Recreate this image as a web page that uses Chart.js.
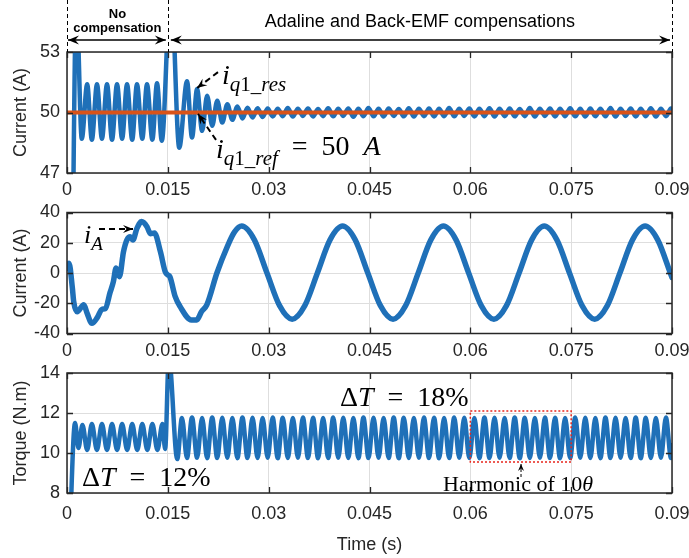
<!DOCTYPE html>
<html>
<head>
<meta charset="utf-8">
<script src="https://cdn.jsdelivr.net/npm/chart.js@4.4.0/dist/chart.umd.min.js"></script>
<style>
  body { margin: 0; background: #fff; width: 689px; height: 558px; position: relative; overflow: hidden; }
  .panel { position: absolute; left: 0; }
</style>
</head>
<body>
<div class="panel" style="top:0"><canvas id="c1" width="689" height="200"></canvas></div>
<div class="panel" style="top:200px"><canvas id="c2" width="689" height="160"></canvas></div>
<div class="panel" style="top:360px"><canvas id="c3" width="689" height="198"></canvas></div>
<script>
// Ejes
const timeTicks = [0, 0.015, 0.03, 0.045, 0.06, 0.075, 0.09];
const iqTicks = [47, 50, 53];
const iaTicks = [-40, -20, 0, 20, 40];
const torqueTicks = [8, 10, 12, 14];

// Rejilla de tiempos (picos/valles) común después de 0.0178 s
const gridT = [0.01785, 0.0186, 0.01935, 0.0201, 0.02085, 0.0216, 0.02235, 0.0231, 0.02385, 0.0246,
  0.02535, 0.0261, 0.02685, 0.0276, 0.02835, 0.0291, 0.02985, 0.0306, 0.03135, 0.0321,
  0.03285, 0.0336, 0.03435, 0.0351, 0.03585, 0.0366, 0.03735, 0.0381, 0.03885, 0.0396,
  0.04035, 0.0411, 0.04185, 0.0426, 0.04335, 0.0441, 0.04485, 0.0456, 0.04635, 0.0471,
  0.04785, 0.0486, 0.04935, 0.0501, 0.05085, 0.0516, 0.05235, 0.0531, 0.05385, 0.0546,
  0.05535, 0.0561, 0.05685, 0.0576, 0.05835, 0.0591, 0.05985, 0.0606, 0.06135, 0.0621,
  0.06285, 0.0636, 0.06435, 0.0651, 0.06585, 0.0666, 0.06735, 0.0681, 0.06885, 0.0696,
  0.07035, 0.0711, 0.07185, 0.0726, 0.07335, 0.0741, 0.07485, 0.0756, 0.07635, 0.0771,
  0.07785, 0.0786, 0.07935, 0.0801, 0.08085, 0.0816, 0.08235, 0.0831, 0.08385, 0.0846,
  0.08535, 0.0861, 0.08685, 0.0876, 0.08835, 0.0891, 0.08985, 0.09];

// Panel 1: i_q1_res (antes de la rejilla común)
const iqPreT = [0, 0.0009, 0.0014, 0.0022, 0.003, 0.0037, 0.00446, 0.0052, 0.00595, 0.0067,
  0.00744, 0.0082, 0.00893, 0.0097, 0.01041, 0.0112, 0.0119, 0.0127, 0.01339, 0.0141, 0.01545, 0.0167];
const iqPreV = [0, 44.5, 55.5, 48.7, 51.4, 48.65, 51.4, 48.7, 51.4, 48.65,
  51.4, 48.7, 51.4, 48.65, 51.4, 48.7, 51.4, 48.65, 51.45, 48.6, 56.5, 48.25];
const iqGridV = [51.55, 48.76, 51.16, 49.09, 50.83, 49.34, 50.58, 49.5, 50.41, 49.64,
  50.3, 49.7, 50.24, 49.75, 50.21, 49.78, 50.2, 49.8, 50.18, 49.82,
  50.22, 49.8, 50.19, 49.83, 50.2, 49.8, 50.17, 49.82, 50.21, 49.81,
  50.19, 49.83, 50.2, 49.79, 50.18, 49.82, 50.22, 49.81, 50.19, 49.8,
  50.2, 49.83, 50.17, 49.81, 50.21, 49.8, 50.19, 49.82, 50.2, 49.8,
  50.18, 49.82, 50.22, 49.81, 50.19, 49.83, 50.2, 49.8, 50.18, 49.82,
  50.21, 49.8, 50.19, 49.82, 50.2, 49.81, 50.17, 49.82, 50.22, 49.8,
  50.19, 49.83, 50.2, 49.8, 50.18, 49.82, 50.21, 49.81, 50.19, 49.8,
  50.2, 49.82, 50.18, 49.81, 50.22, 49.8, 50.19, 49.83, 50.2, 49.8,
  50.18, 49.82, 50.21, 49.8, 50.19, 49.82, 50.2, 50.0];
const iqRefT = [0, 0.09];
const iqRefV = [50, 50];

// Panel 2: i_A
const iaT = [0, 0.0003, 0.0008, 0.001, 0.0015, 0.0025, 0.003, 0.0037, 0.0045, 0.0052,
  0.0057, 0.0064, 0.0069, 0.0073, 0.0078, 0.0084, 0.0089, 0.0094, 0.0098, 0.0104,
  0.0111, 0.0119, 0.0124, 0.013, 0.0139, 0.0146, 0.015, 0.0153, 0.0161, 0.0168,
  0.0185, 0.0193, 0.02, 0.0208, 0.0223, 0.0238, 0.0249,
  0.026, 0.027875, 0.02975, 0.031625, 0.0335, 0.035375, 0.03725, 0.039125,
  0.041, 0.042875, 0.04475, 0.046625, 0.0485, 0.050375, 0.05225, 0.054125,
  0.056, 0.057875, 0.05975, 0.061625, 0.0635, 0.065375, 0.06725, 0.069125,
  0.071, 0.072875, 0.07475, 0.076625, 0.0785, 0.080375, 0.08225, 0.084125,
  0.086, 0.087875, 0.08975, 0.09];
const iaV = [3, 6.5, -10, -19, -25.6, -21, -26.7, -33.3, -29.5, -24,
  -23.5, -13, -5.7, 3.3, -2.4, 14, 21.8, 24, 21.8, 29.5,
  34, 30.6, 26, 26.5, 14, 1, -1.3, -2.4, -15.6, -22,
  -31, -31, -25.6, -21, 0, 17, 27,
  31, 21.9, 0, -21.6, -30.5, -21.6, 0, 21.9,
  31, 21.9, 0, -21.6, -30.5, -21.6, 0, 21.9,
  31, 21.9, 0, -21.6, -30.5, -21.6, 0, 21.9,
  31, 21.9, 0, -21.6, -30.5, -21.6, 0, 21.9,
  31, 21.9, 0, -3];

// Panel 3: par
const torquePreT = [0, 0.0005, 0.0012, 0.0017, 0.0023, 0.003, 0.0037, 0.00445, 0.0052, 0.00595,
  0.0067, 0.00745, 0.0082, 0.00895, 0.0097, 0.01045, 0.0112, 0.01195, 0.0127, 0.01345,
  0.0142, 0.0146, 0.01515, 0.0164, 0.0171];
const torquePreV = [0, 6.5, 11.5, 10.25, 11.4, 10.15, 11.45, 10.15, 11.45, 10.15,
  11.45, 10.15, 11.45, 10.15, 11.45, 10.15, 11.45, 10.15, 11.45, 10.15,
  11.45, 10.2, 14.8, 9.7, 11.75];
const torqueGridV = [9.75, 11.78, 9.76, 11.75, 9.74, 11.77, 9.75, 11.76, 9.76, 11.75,
  9.74, 11.77, 9.75, 11.76, 9.75, 11.75, 9.76, 11.77, 9.74, 11.76,
  9.75, 11.75, 9.76, 11.77, 9.75, 11.76, 9.74, 11.75, 9.75, 11.77,
  9.76, 11.76, 9.75, 11.75, 9.74, 11.77, 9.75, 11.76, 9.76, 11.75,
  9.75, 11.77, 9.74, 11.76, 9.75, 11.75, 9.76, 11.77, 9.75, 11.76,
  9.74, 11.75, 9.75, 11.77, 9.76, 11.76, 9.75, 11.75, 9.74, 11.77,
  9.75, 11.76, 9.76, 11.75, 9.75, 11.77, 9.74, 11.76, 9.75, 11.75,
  9.76, 11.77, 9.75, 11.76, 9.74, 11.75, 9.75, 11.77, 9.76, 11.76,
  9.75, 11.75, 9.74, 11.77, 9.75, 11.76, 9.76, 11.75, 9.75, 11.77,
  9.74, 11.76, 9.75, 11.75, 9.76, 11.77, 9.75, 10.4];

const BLUE = '#1f70b8';
const ORANGE = '#d95319';
const INK = '#262626';
const SANS = '"Liberation Sans", Arial, sans-serif';
const SERIF = '"Liberation Serif", "Times New Roman", serif';

function pares(ts, vs) {
  return ts.map((t, i) => ({ x: t, y: vs[i] }));
}

// Caja estilo MATLAB con marcas hacia dentro
const cajaPlugin = {
  id: 'caja',
  afterDatasetsDraw(chart) {
    const { ctx, chartArea: a, scales: { x, y } } = chart;
    ctx.save();
    ctx.strokeStyle = INK;
    ctx.lineWidth = 1.5;
    ctx.setLineDash([]);
    ctx.strokeRect(a.left, a.top, a.right - a.left, a.bottom - a.top);
    ctx.lineWidth = 1.3;
    ctx.beginPath();
    x.ticks.forEach(t => {
      const px = Math.round(x.getPixelForValue(t.value)) + 0.5;
      ctx.moveTo(px, a.bottom); ctx.lineTo(px, a.bottom - 6);
      ctx.moveTo(px, a.top); ctx.lineTo(px, a.top + 6);
    });
    y.ticks.forEach(t => {
      const py = Math.round(y.getPixelForValue(t.value)) + 0.5;
      ctx.moveTo(a.left, py); ctx.lineTo(a.left + 6, py);
      ctx.moveTo(a.right, py); ctx.lineTo(a.right - 6, py);
    });
    ctx.stroke();
    ctx.restore();
  }
};

function punta(ctx, x1, y1, x2, y2, len, half) {
  const ang = Math.atan2(y2 - y1, x2 - x1);
  ctx.save();
  ctx.translate(x2, y2);
  ctx.rotate(ang);
  ctx.setLineDash([]);
  ctx.beginPath();
  ctx.moveTo(0, 0);
  ctx.lineTo(-len, -half);
  ctx.lineTo(-len * 0.65, 0);
  ctx.lineTo(-len, half);
  ctx.closePath();
  ctx.fill();
  ctx.restore();
}

function flecha(ctx, x1, y1, x2, y2, dash, width, len, half) {
  ctx.save();
  ctx.strokeStyle = '#000';
  ctx.fillStyle = '#000';
  ctx.lineWidth = width;
  ctx.setLineDash(dash);
  ctx.beginPath();
  ctx.moveTo(x1, y1);
  ctx.lineTo(x2, y2);
  ctx.stroke();
  punta(ctx, x1, y1, x2, y2, len, half);
  ctx.restore();
}

function textoTramos(ctx, x, y, tramos) {
  ctx.save();
  ctx.fillStyle = '#000';
  ctx.textAlign = 'left';
  ctx.textBaseline = 'alphabetic';
  for (const [txt, font, dy] of tramos) {
    ctx.font = font;
    ctx.fillText(txt, x, y + (dy || 0));
    x += ctx.measureText(txt).width;
  }
  ctx.restore();
}

function opciones({ yMin, yMax, yTicks, yTitle, padTop, xAxisH, xLabelPad, xTitle }) {
  const font = { family: SANS, size: 18 };
  return {
    responsive: false,
    animation: false,
    devicePixelRatio: 1,
    layout: { padding: { top: padTop, right: 17, left: 0, bottom: 0 } },
    plugins: { legend: { display: false }, tooltip: { enabled: false } },
    elements: { point: { radius: 0 }, line: { capBezierPoints: false, borderJoinStyle: 'round', borderCapStyle: 'round' } },
    scales: {
      x: {
        type: 'linear', min: 0, max: 0.09,
        afterBuildTicks: s => { s.ticks = timeTicks.map(v => ({ value: v })); },
        afterFit: s => { s.height = xAxisH; s.paddingLeft = 0; s.paddingRight = 0; },
        grid: { color: '#dedede', drawTicks: false },
        border: { display: false },
        ticks: { font, color: INK, padding: xLabelPad, maxRotation: 0, autoSkip: false, callback: v => String(v) },
        title: xTitle
          ? { display: true, text: xTitle, font, color: INK, padding: { top: 0, bottom: 2 } }
          : { display: false }
      },
      y: {
        type: 'linear', min: yMin, max: yMax,
        afterBuildTicks: s => { s.ticks = yTicks.map(v => ({ value: v })); },
        afterFit: s => { s.width = 67; s.paddingTop = 0; s.paddingBottom = 0; },
        grid: { color: '#dedede', drawTicks: false },
        border: { display: false },
        ticks: { font, color: INK, padding: 7, callback: v => String(v) },
        title: { display: true, text: yTitle, font, color: INK, padding: { top: 10, bottom: 0 } }
      }
    }
  };
}

// Panel 1 + cabecera
const anotaciones1 = {
  id: 'anot1',
  afterDraw(chart) {
    const { ctx, chartArea: a, scales: { x, y } } = chart;
    const x0 = x.getPixelForValue(0), x1 = x.getPixelForValue(0.015), x2 = x.getPixelForValue(0.09);
    ctx.save();
    ctx.strokeStyle = '#000';
    ctx.lineWidth = 1;
    ctx.setLineDash([4, 3]);
    ctx.beginPath();
    [x0, x1, x2].forEach(px => { ctx.moveTo(Math.round(px) + 0.5, 0); ctx.lineTo(Math.round(px) + 0.5, a.top); });
    ctx.stroke();
    ctx.restore();

    // flechas dobles
    const yA = 40;
    flecha(ctx, x1 - 2, yA, x0 + 1, yA, [], 1.5, 11, 4.5);
    punta(ctx, x0, yA, x1 - 2, yA, 11, 4.5);
    flecha(ctx, x2 - 2, yA, x1 + 3, yA, [], 1.5, 11, 4.5);
    punta(ctx, x1, yA, x2 - 2, yA, 11, 4.5);

    ctx.save();
    ctx.fillStyle = '#000';
    ctx.textAlign = 'center';
    ctx.textBaseline = 'middle';
    ctx.font = 'bold 13px ' + SANS;
    ctx.fillText('No', (x0 + x1) / 2, 14);
    ctx.fillText('compensation', (x0 + x1) / 2, 28);
    ctx.font = '18px ' + SANS;
    ctx.fillText('Adaline and Back-EMF compensations', (x1 + x2) / 2, 22);
    ctx.restore();

    // i_q1_res
    flecha(ctx, x.getPixelForValue(0.02246), y.getPixelForValue(52.0),
      x.getPixelForValue(0.01934), y.getPixelForValue(51.21), [6, 4], 2, 10, 4);
    textoTramos(ctx, x.getPixelForValue(0.02306), y.getPixelForValue(51.41), [
      ['i', 'italic 28px ' + SERIF, 0],
      ['q', 'italic 21px ' + SERIF, 7],
      ['1_', '21px ' + SERIF, 7],
      ['res', 'italic 21px ' + SERIF, 7]
    ]);
    // i_q1_ref = 50 A
    flecha(ctx, x.getPixelForValue(0.02217), y.getPixelForValue(48.64),
      x.getPixelForValue(0.01949), y.getPixelForValue(49.93), [6, 4], 2, 10, 4);
    textoTramos(ctx, x.getPixelForValue(0.02216), y.getPixelForValue(47.74), [
      ['i', 'italic 28px ' + SERIF, 0],
      ['q', 'italic 21px ' + SERIF, 7],
      ['1_', '21px ' + SERIF, 7],
      ['ref', 'italic 21px ' + SERIF, 7],
      ['\u2002=\u200250\u2002', '28px ' + SERIF, -3],
      ['A', 'italic 28px ' + SERIF, -3]
    ]);
  }
};

new Chart(document.getElementById('c1'), {
  type: 'line',
  data: {
    datasets: [
      { data: pares(iqRefT, iqRefV), borderColor: ORANGE, borderWidth: 4, pointRadius: 0, clip: 0, order: 0 },
      { data: pares(iqPreT.concat(gridT), iqPreV.concat(iqGridV)), borderColor: BLUE, borderWidth: 4.5,
        cubicInterpolationMode: 'monotone', pointRadius: 0, clip: 0, order: 1 }
    ]
  },
  options: opciones({ yMin: 47, yMax: 53, yTicks: iqTicks, yTitle: 'Current (A)', padTop: 52, xAxisH: 27, xLabelPad: 6 }),
  plugins: [cajaPlugin, anotaciones1]
});

// Panel 2
const anotaciones2 = {
  id: 'anot2',
  afterDraw(chart) {
    const { ctx, scales: { x, y } } = chart;
    flecha(ctx, x.getPixelForValue(0.00476), y.getPixelForValue(29.1),
      x.getPixelForValue(0.00982), y.getPixelForValue(29.1), [6, 4], 2, 10, 4);
    textoTramos(ctx, x.getPixelForValue(0.00253), y.getPixelForValue(19.8), [
      ['i', 'italic 26px ' + SERIF, 0],
      ['A', 'italic 19px ' + SERIF, 7]
    ]);
  }
};

new Chart(document.getElementById('c2'), {
  type: 'line',
  data: {
    datasets: [
      { data: pares(iaT, iaV), borderColor: BLUE, borderWidth: 5.5,
        cubicInterpolationMode: 'monotone', pointRadius: 0, clip: 0 }
    ]
  },
  options: opciones({ yMin: -40, yMax: 40, yTicks: iaTicks, yTitle: 'Current (A)', padTop: 12.5, xAxisH: 26.5, xLabelPad: 7 }),
  plugins: [cajaPlugin, anotaciones2]
});

// Panel 3
const anotaciones3 = {
  id: 'anot3',
  afterDraw(chart) {
    const { ctx, scales: { x, y } } = chart;
    textoTramos(ctx, x.getPixelForValue(0.04061), y.getPixelForValue(12.35), [
      ['Δ', '28px ' + SERIF, 0],
      ['T', 'italic 28px ' + SERIF, 0],
      ['\u2002=\u200218%', '28px ' + SERIF, 0]
    ]);
    textoTramos(ctx, x.getPixelForValue(0.00223), y.getPixelForValue(8.35), [
      ['Δ', '28px ' + SERIF, 0],
      ['T', 'italic 28px ' + SERIF, 0],
      ['\u2002=\u200212%', '28px ' + SERIF, 0]
    ]);
    // recuadro punteado rojo
    const rx1 = x.getPixelForValue(0.06), rx2 = x.getPixelForValue(0.075);
    const ry1 = y.getPixelForValue(12.1), ry2 = y.getPixelForValue(9.55);
    ctx.save();
    ctx.strokeStyle = '#e8261c';
    ctx.lineWidth = 1.5;
    ctx.setLineDash([2, 2]);
    ctx.strokeRect(rx1, ry1, rx2 - rx1, ry2 - ry1);
    ctx.restore();
    flecha(ctx, x.getPixelForValue(0.06754), y.getPixelForValue(8.8),
      x.getPixelForValue(0.06754), y.getPixelForValue(9.45), [3, 2], 1, 7, 3);
    const cx = x.getPixelForValue(0.0671), by = y.getPixelForValue(8.1);
    ctx.save();
    ctx.font = '22px ' + SERIF;
    const w1 = ctx.measureText('Harmonic of 10').width;
    ctx.font = 'italic 22px ' + SERIF;
    const w2 = ctx.measureText('θ').width;
    ctx.restore();
    textoTramos(ctx, cx - (w1 + w2) / 2, by, [
      ['Harmonic of 10', '22px ' + SERIF, 0],
      ['θ', 'italic 22px ' + SERIF, 0]
    ]);
  }
};

new Chart(document.getElementById('c3'), {
  type: 'line',
  data: {
    datasets: [
      { data: pares(torquePreT.concat(gridT), torquePreV.concat(torqueGridV)), borderColor: BLUE, borderWidth: 4.5,
        cubicInterpolationMode: 'monotone', pointRadius: 0, clip: 0 }
    ]
  },
  options: opciones({ yMin: 8, yMax: 14, yTicks: torqueTicks, yTitle: 'Torque (N.m)', padTop: 13, xAxisH: 65, xLabelPad: 10, xTitle: 'Time (s)' }),
  plugins: [cajaPlugin, anotaciones3]
});
</script>
</body>
</html>
